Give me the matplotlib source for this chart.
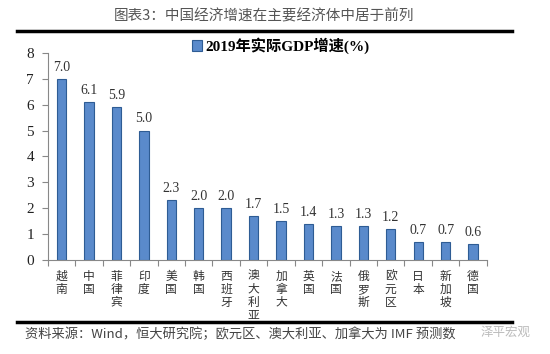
import matplotlib
matplotlib.use("Agg")
import matplotlib.pyplot as plt
from matplotlib.lines import Line2D

plt.rcParams['font.family'] = ['Liberation Serif', 'Noto Sans CJK SC', 'DejaVu Sans']

countries = ['越南', '中国', '菲律宾', '印度', '美国', '韩国', '西班牙', '澳大利亚',
             '加拿大', '英国', '法国', '俄罗斯', '欧元区', '日本', '新加坡', '德国']
growth = [7.0, 6.1, 5.9, 5.0, 2.3, 2.0, 2.0, 1.7, 1.5, 1.4, 1.3, 1.3, 1.2, 0.7, 0.7, 0.6]

fig = plt.figure(figsize=(5.5, 3.54), dpi=100)
ax = fig.add_axes([0.087, 0.2655, 0.798, 0.585])

x = range(len(countries))
bars = ax.bar(x, growth, width=0.34, color='#5A8ACB', edgecolor='#2E5C94',
              linewidth=0.8, label='2019年实际GDP增速(%)')

for xi, v in zip(x, growth):
    ax.text(xi, v + 0.2, f'{v:.1f}', ha='center', va='bottom', fontsize=10,
            color='#333333')

ax.set_xlim(-0.5, len(countries) - 0.5)
ax.set_ylim(0, 8)
ax.set_yticks(range(0, 9))
ax.tick_params(axis='y', labelsize=11, direction='out', length=4, color='#888888',
               labelcolor='#222222', pad=6)
# ticks sit between the categories
ax.set_xticks([i - 0.5 for i in range(len(countries) + 1)])
ax.set_xticklabels([])
ax.tick_params(axis='x', direction='out', length=4, color='#888888')

for xi, name in zip(x, countries):
    ax.text(xi, -0.38, '\n'.join(name), ha='center', va='top', fontsize=8.5,
            family=['Noto Sans CJK SC'], color='#333333', linespacing=1.0)

for s in ['top', 'right']:
    ax.spines[s].set_visible(False)
for s in ['left', 'bottom']:
    ax.spines[s].set_color('#888888')

fig.legend(handles=[bars], loc='center', bbox_to_anchor=(0.51, 0.87), frameon=False,
           prop={'family': ['Liberation Serif', 'Noto Sans CJK SC'], 'weight': 'bold',
                 'size': 11},
           handlelength=0.7, handleheight=0.7, handletextpad=0.2)

fig.text(0.48, 0.955, '图表3：中国经济增速在主要经济体中居于前列', ha='center', va='center',
         fontsize=10.5, color='#555555', family=['Noto Sans CJK SC'])

fig.add_artist(Line2D([0.031, 0.931], [0.912, 0.912], color='black', linewidth=2.5))
fig.add_artist(Line2D([0.031, 0.931], [0.0904, 0.0904], color='black', linewidth=2.5))

fig.text(0.045, 0.055, '资料来源：Wind，恒大研究院；欧元区、澳大利亚、加拿大为 IMF 预测数',
         ha='left', va='center', fontsize=9.5, color='#444444', style='italic',
         family=['Noto Sans CJK SC'])
fig.text(0.92, 0.062, '泽平宏观', ha='center', va='center', fontsize=9,
         color='#bbbbbb', family=['Noto Sans CJK SC'])

fig.savefig('out.png', dpi=100)
